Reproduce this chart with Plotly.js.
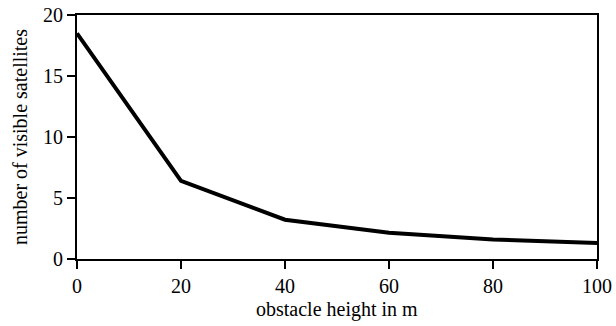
<!DOCTYPE html>
<html>
<head>
<meta charset="utf-8">
<script src="https://cdn.plot.ly/plotly-3.0.1.min.js"></script>
<style>body{margin:0;padding:0;background:#fff;}#chart{width:616px;height:326px;}</style>
</head>
<body>
<div id="chart"></div>
<script>
const heights = [0, 20, 40, 60, 80, 100];
const satellites = [18.5, 6.4, 3.22, 2.15, 1.6, 1.32];
const xTicks = [0, 20, 40, 60, 80, 100];
const yTicks = [0, 5, 10, 15, 20];
const xTitle = 'obstacle height in m';
const yTitle = 'number of visible satellites';

const font = {family: '"Liberation Serif", "Times New Roman", serif', size: 20, color: '#000'};

Plotly.newPlot('chart', [{
  x: heights, y: satellites, type: 'scatter', mode: 'lines',
  line: {color: '#000', width: 4}
}], {
  width: 616, height: 326,
  margin: {l: 77, r: 19, t: 15, b: 67},
  paper_bgcolor: '#fff', plot_bgcolor: '#fff',
  font: font,
  showlegend: false,
  xaxis: {
    range: [0, 100], tickvals: xTicks, ticktext: xTicks.map(String),
    showgrid: false, zeroline: false, showline: true, mirror: true,
    linecolor: '#000', linewidth: 2, ticks: 'outside', ticklen: 8, tickwidth: 2, tickcolor: '#000',
    tickfont: font
  },
  yaxis: {
    range: [0, 20], tickvals: yTicks, ticktext: yTicks.map(String),
    showgrid: false, zeroline: false, showline: true, mirror: true,
    linecolor: '#000', linewidth: 2, ticks: 'outside', ticklen: 8, tickwidth: 2, tickcolor: '#000',
    tickfont: font,
    title: {text: yTitle, font: font, standoff: 10}
  },
  annotations: [{
    text: xTitle, xref: 'paper', yref: 'paper', x: 0.5, y: -0.207,
    xanchor: 'center', yanchor: 'middle', showarrow: false, font: font
  }]
}, {staticPlot: true});
</script>
</body>
</html>
